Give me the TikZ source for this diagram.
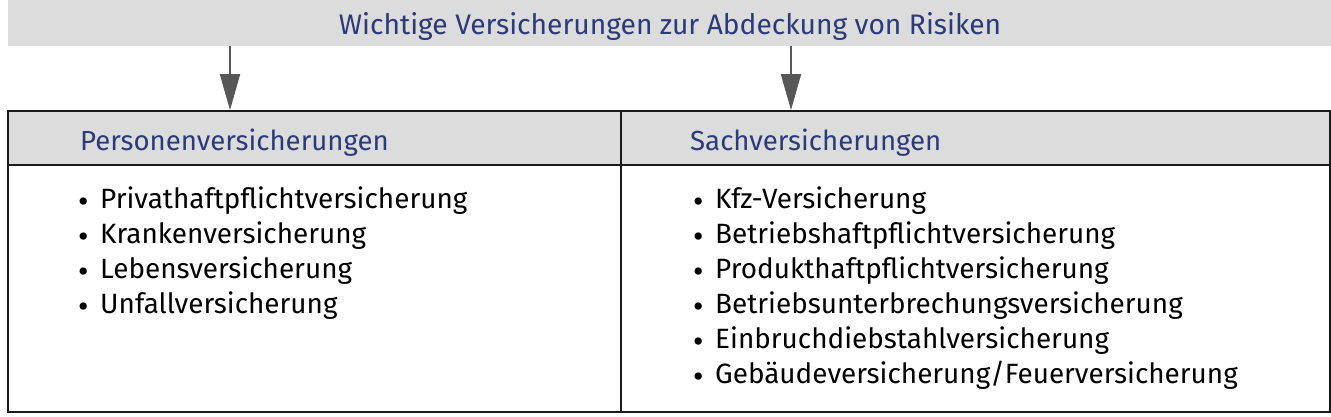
\documentclass[tikz,border=0pt]{standalone}
\usepackage{fontspec}
\setmainfont{Fira Sans}
\usetikzlibrary{arrows.meta}
\definecolor{bannergray}{HTML}{DCDCDC}
\definecolor{headblue}{HTML}{2B3A7A}
\definecolor{arrowgray}{HTML}{575757}
\definecolor{linedark}{HTML}{1A1A1A}
\newcommand\bul{\makebox[22pt][l]{\raisebox{-4.5pt}{\scalebox{1.15}{•}}}}
\tikzset{
  banner/.style={fill=bannergray, draw=none, minimum width=1323pt, minimum height=46pt, inner sep=0pt},
  headcell/.style={fill=bannergray, draw=linedark, line width=1.8pt, inner sep=0pt, minimum height=54pt},
  bodycell/.style={draw=linedark, line width=1.8pt, inner sep=0pt},
  titletext/.style={text=headblue, font=\fontsize{28.2}{30}\selectfont, anchor=base, inner sep=0pt},
  headtext/.style={text=headblue, font=\fontsize{27.6}{30}\selectfont, anchor=base west, inner sep=0pt},
  item/.style={text=black, font=\fontsize{27.9}{30}\selectfont, anchor=base west, inner sep=0pt},
  arr/.style={draw=arrowgray, line width=2pt, -{Triangle[width=20pt,length=36pt]}, arrowgray},
}
\begin{document}
\begin{tikzpicture}[x=1pt,y=-1pt]
\useasboundingbox (0,0) rectangle (1331,417);
% banner
\node[banner] (banner) at (669.5,23) {};
\node[titletext] (title) at (670,35) {Wichtige Versicherungen zur Abdeckung von Risiken};
% table cells
\node[headcell, minimum width=613pt] (phead) at (314.5,138) {};
\node[headcell, minimum width=709pt] (shead) at (975.5,138) {};
\node[bodycell, minimum width=613pt, minimum height=247pt] (pbody) at (314.5,288.5) {};
\node[bodycell, minimum width=709pt, minimum height=247pt] (sbody) at (975.5,288.5) {};
% arrows
\coordinate (al) at (230,0);
\coordinate (ar) at (791,0);
\draw[arr] (banner.south -| al) -- (phead.north -| al);
\draw[arr] (banner.south -| ar) -- (shead.north -| ar);
% headers
\node[headtext] (ptitle) at (80,150) {Personenversicherungen};
\node[headtext] (stitle) at (690,150) {Sachversicherungen};
% items
\foreach \t [count=\i] in {Privathaftpflichtversicherung, Krankenversicherung, Lebensversicherung, Unfallversicherung}
  \node[item, name=pl\i] at (78,173+35*\i) {\bul\t};
\foreach \t [count=\i] in {Kfz-Versicherung, Betriebshaftpflichtversicherung, Produkthaftpflichtversicherung, Betriebsunterbrechungsversicherung, Einbruchdiebstahlversicherung, Gebäudeversicherung/Feuerversicherung}
  \node[item, name=sl\i] at (693,173+35*\i) {\bul\t};
\end{tikzpicture}
\end{document}
